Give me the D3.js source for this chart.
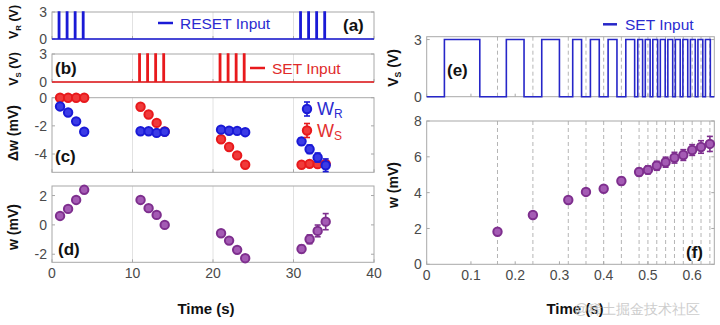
<!DOCTYPE html>
<html><head><meta charset="utf-8">
<script src="https://cdn.jsdelivr.net/npm/d3@7"></script>
<style>body{margin:0;background:#fff}svg{display:block}text{font-family:"Liberation Sans",Arial,sans-serif}</style>
</head><body>
<svg id="c" width="720" height="325"></svg>
<script>
// ---------- data ----------
const resetPulses = [1, 2, 3, 4, 31, 32, 33, 34];
const setPulses = [11, 12, 13, 14, 21, 22, 23, 24];
const tC = [1, 2, 3, 4, 11, 12, 13, 14, 21, 22, 23, 24, 31, 32, 33, 34];
const wR = [-0.62, -1.05, -1.68, -2.42, -2.38, -2.38, -2.5, -2.42, -2.27, -2.35, -2.36, -2.45, -3.1, -3.66, -4.25, -4.8];
const wRerr = [0.1, 0.1, 0.12, 0.18, 0.15, 0.15, 0.2, 0.2, 0.18, 0.18, 0.18, 0.2, 0.25, 0.3, 0.32, 0.45];
const wS = [0, 0, 0, 0, -0.64, -1.19, -1.79, -2.4, -2.95, -3.5, -4.1, -4.76, -4.76, -4.7, -4.72, -4.7];
const wSerr = [0.05, 0.05, 0.05, 0.05, 0.08, 0.08, 0.1, 0.15, 0.08, 0.08, 0.08, 0.08, 0.08, 0.08, 0.1, 0.15];
const w = [0.61, 1.09, 1.7, 2.39, 1.7, 1.14, 0.68, 0.0, -0.57, -1.07, -1.7, -2.27, -1.64, -0.98, -0.41, 0.22];
const wErr = [0.1, 0.1, 0.12, 0.18, 0.15, 0.15, 0.2, 0.15, 0.15, 0.15, 0.18, 0.2, 0.25, 0.3, 0.4, 0.55];

const tF = [0.16, 0.24, 0.32, 0.36, 0.40, 0.44, 0.48, 0.50, 0.52, 0.54, 0.56, 0.58, 0.60, 0.62, 0.64];
const wF = [1.82, 2.75, 3.59, 4.04, 4.22, 4.65, 5.15, 5.27, 5.5, 5.7, 5.95, 6.1, 6.38, 6.55, 6.72];
const wFerr = [0.08, 0.1, 0.12, 0.12, 0.15, 0.2, 0.2, 0.22, 0.25, 0.28, 0.3, 0.3, 0.3, 0.35, 0.42];
const setStart = [0.04, 0.18, 0.26, 0.33, 0.37, 0.41, 0.45, 0.477, 0.494, 0.511, 0.528, 0.545, 0.562, 0.579, 0.596, 0.613, 0.630];
const setEnd   = [0.12, 0.22, 0.30, 0.35, 0.39, 0.43, 0.47, 0.488, 0.505, 0.522, 0.539, 0.556, 0.573, 0.590, 0.607, 0.624, 0.641];

const leftTicksX = [0, 10, 20, 30, 40];
const rightTicksX = [0, 0.1, 0.2, 0.3, 0.4, 0.5, 0.6];

// ---------- styles ----------
const BLUE = "#1a1ad6", RED = "#e8191c", PURPLE = "#7e2f8e", EBLUE = "#2626c8";
const svg = d3.select("#c");

const xL = d3.scaleLinear().domain([0, 40]).range([52, 374]);
const xR = d3.scaleLinear().domain([0, 0.65]).range([426.7, 714.3]);

function frame(x, y, yTicks, xTicks, showXLabels, grid, gridDash) {
  const g = svg.append("g");
  const [x0, x1] = x.range(), [y0, y1] = y.range();
  if (grid) grid.forEach(v => g.append("line").attr("x1", x(v)).attr("x2", x(v)).attr("y1", y1).attr("y2", y0)
      .attr("stroke", gridDash ? "#b5b5b5" : "#e2e2e2").attr("stroke-width", 1).attr("stroke-dasharray", gridDash ? "4,3" : null));
  g.append("rect").attr("x", x0).attr("y", y1).attr("width", x1 - x0).attr("height", y0 - y1)
    .attr("fill", "none").attr("stroke", "#a8a8a8").attr("stroke-width", 1);
  yTicks.forEach(v => {
    g.append("line").attr("x1", x0).attr("x2", x0 + 3).attr("y1", y(v)).attr("y2", y(v)).attr("stroke", "#a8a8a8");
    g.append("line").attr("x1", x1).attr("x2", x1 - 3).attr("y1", y(v)).attr("y2", y(v)).attr("stroke", "#a8a8a8");
    g.append("text").attr("x", x0 - 5).attr("y", y(v)).attr("dy", "0.36em").attr("text-anchor", "end")
      .attr("font-size", 14).attr("fill", "#4a4a4a").text(v);
  });
  xTicks.forEach(v => {
    g.append("line").attr("x1", x(v)).attr("x2", x(v)).attr("y1", y0).attr("y2", y0 - 3).attr("stroke", "#a8a8a8");
    if (showXLabels) g.append("text").attr("x", x(v)).attr("y", y0 + 16).attr("text-anchor", "middle")
      .attr("font-size", 14).attr("fill", "#4a4a4a").text(v);
  });
  return g;
}

function ylabel(x, y, parts, size) {
  const fs = size || 14;
  const t = svg.append("text").attr("transform", `translate(${x},${y}) rotate(-90)`).attr("text-anchor", "middle")
    .attr("font-size", fs).attr("font-weight", "bold").attr("fill", "#111");
  parts.forEach(p => {
    t.append("tspan").attr("font-size", p.sub ? fs * 0.62 : fs).attr("dy", p.dy || 0).text(p.t);
  });
}

function tag(x, y, s) {
  svg.append("text").attr("x", x).attr("y", y).attr("font-size", 17).attr("font-weight", "bold").attr("fill", "#111").text(s);
}

function errpts(x, y, xs, ys, es, color, fill) {
  const g = svg.append("g");
  xs.forEach((t, i) => {
    const cx = x(t), a = y(ys[i] + es[i]), b = y(ys[i] - es[i]);
    g.append("line").attr("x1", cx).attr("x2", cx).attr("y1", a).attr("y2", b).attr("stroke", color).attr("stroke-width", 1.6);
    [a, b].forEach(v => g.append("line").attr("x1", cx - 3).attr("x2", cx + 3).attr("y1", v).attr("y2", v).attr("stroke", color).attr("stroke-width", 1.6));
    g.append("circle").attr("cx", cx).attr("cy", y(ys[i])).attr("r", 4.2).attr("fill", fill).attr("stroke", color).attr("stroke-width", 2);
  });
}

function pulsePath(x, y, starts, ends, xmax, hi) {
  const pts = [[x.domain()[0], 0]];
  starts.forEach((s, i) => { pts.push([s, 0], [s, hi], [ends[i], hi], [ends[i], 0]); });
  pts.push([xmax, 0]);
  return d3.line().x(d => x(d[0])).y(d => y(d[1]))(pts);
}

// ---------- (a) ----------
const yA = d3.scaleLinear().domain([0, 3]).range([39, 12]);
frame(xL, yA, [0, 3], leftTicksX, false, [10, 20, 30]);
svg.append("path").attr("d", pulsePath(xL, yA, resetPulses.map(t => t - 0.2), resetPulses.map(t => t - 0.05), 40, 3))
  .attr("fill", "none").attr("stroke", BLUE).attr("stroke-width", 1.6);
svg.append("line").attr("x1", 158).attr("x2", 173).attr("y1", 23).attr("y2", 23).attr("stroke", BLUE).attr("stroke-width", 2.5);
svg.append("text").attr("x", 180).attr("y", 28.5).attr("font-size", 15.5).attr("fill", "#2b2bd0").text("RESET Input");
tag(343, 31, "(a)");
ylabel(18, 22, [{t: "V"}, {t: "R", sub: true, dy: 3}, {t: " (V)", dy: -3}], 12.5);

// ---------- (b) ----------
const yB = d3.scaleLinear().domain([0, 3]).range([82, 54]);
frame(xL, yB, [0, 3], leftTicksX, false, [10, 20, 30]);
svg.append("path").attr("d", pulsePath(xL, yB, setPulses.map(t => t - 0.2), setPulses.map(t => t - 0.05), 40, 3))
  .attr("fill", "none").attr("stroke", RED).attr("stroke-width", 1.6);
svg.append("line").attr("x1", 250).attr("x2", 265).attr("y1", 68).attr("y2", 68).attr("stroke", RED).attr("stroke-width", 2.5);
svg.append("text").attr("x", 272).attr("y", 73.5).attr("font-size", 15.5).attr("fill", "#e02a2a").text("SET Input");
tag(55, 74, "(b)");
ylabel(18, 69, [{t: "V"}, {t: "S", sub: true, dy: 3}, {t: " (V)", dy: -3}], 12.5);

// ---------- (c) ----------
const yC = d3.scaleLinear().domain([-5.3, 0]).range([172.3, 97.7]);
frame(xL, yC, [0, -2, -4], leftTicksX, false, [10, 20, 30]);
errpts(xL, yC, tC, wS, wSerr, RED, "#f03a3a");
errpts(xL, yC, tC, wR, wRerr, BLUE, "#3b3be6");
tag(55, 162, "(c)");
ylabel(18, 133, [{t: "Δw (mV)"}]);
// legend
[[109, BLUE, "#3b3be6", "R"], [130.5, RED, "#f03a3a", "S"]].forEach(([ly, c, f, s]) => {
  svg.append("line").attr("x1", 307).attr("x2", 307).attr("y1", ly - 7).attr("y2", ly + 7).attr("stroke", c).attr("stroke-width", 1.6);
  [ly - 7, ly + 7].forEach(v => svg.append("line").attr("x1", 304).attr("x2", 310).attr("y1", v).attr("y2", v).attr("stroke", c).attr("stroke-width", 1.6));
  svg.append("circle").attr("cx", 307).attr("cy", ly).attr("r", 4.2).attr("fill", f).attr("stroke", c).attr("stroke-width", 2);
  const t = svg.append("text").attr("x", 317).attr("y", ly + 6).attr("font-size", 18).attr("fill", c === BLUE ? "#2b2bd0" : "#e23030");
  t.append("tspan").text("W");
  t.append("tspan").attr("font-size", 12).attr("dy", 3).text(s);
});

// ---------- (d) ----------
const yD = d3.scaleLinear().domain([-2.55, 2.65]).range([262.3, 186]);
frame(xL, yD, [2, 0, -2], leftTicksX, true, [10, 20, 30]);
errpts(xL, yD, tC, w, wErr, PURPLE, "#a45bb4");
tag(58, 255, "(d)");
ylabel(18, 227, [{t: "w (mV)"}]);
svg.append("text").attr("x", 206).attr("y", 314).attr("text-anchor", "middle").attr("font-size", 15).attr("font-weight", "bold").attr("fill", "#111").text("Time (s)");

// ---------- (e) ----------
const yE = d3.scaleLinear().domain([0, 3.15]).range([96.7, 36.7]);
frame(xR, yE, [0, 3], rightTicksX, false, tF, true);
svg.append("path").attr("d", pulsePath(xR, yE, setStart, setEnd, 0.65, 3))
  .attr("fill", "none").attr("stroke", EBLUE).attr("stroke-width", 1.6);
svg.append("line").attr("x1", 603).attr("x2", 617).attr("y1", 24.3).attr("y2", 24.3).attr("stroke", EBLUE).attr("stroke-width", 2.5);
svg.append("text").attr("x", 625).attr("y", 30).attr("font-size", 15.5).attr("fill", "#2b2bd0").text("SET Input");
tag(447, 76, "(e)");
ylabel(398, 68, [{t: "V"}, {t: "S", sub: true, dy: 3}, {t: " (V)", dy: -3}]);

// ---------- (f) ----------
const yF = d3.scaleLinear().domain([0, 8]).range([264.3, 121]);
frame(xR, yF, [0, 2, 4, 6, 8], rightTicksX, true, tF, true);
errpts(xR, yF, tF, wF, wFerr, PURPLE, "#a45bb4");
tag(686, 258, "(f)");
ylabel(398, 185, [{t: "w (mV)"}]);
svg.append("text").attr("x", 575).attr("y", 314).attr("text-anchor", "middle").attr("font-size", 15).attr("font-weight", "bold").attr("fill", "#111").text("Time (s)");
svg.append("text").attr("x", 574).attr("y", 314).attr("font-size", 14).attr("fill", "#c8c8c8").attr("opacity", 0.9)
  .attr("font-family", "Noto Sans CJK SC, sans-serif").text("@稀土掘金技术社区");
</script>
</body></html>
